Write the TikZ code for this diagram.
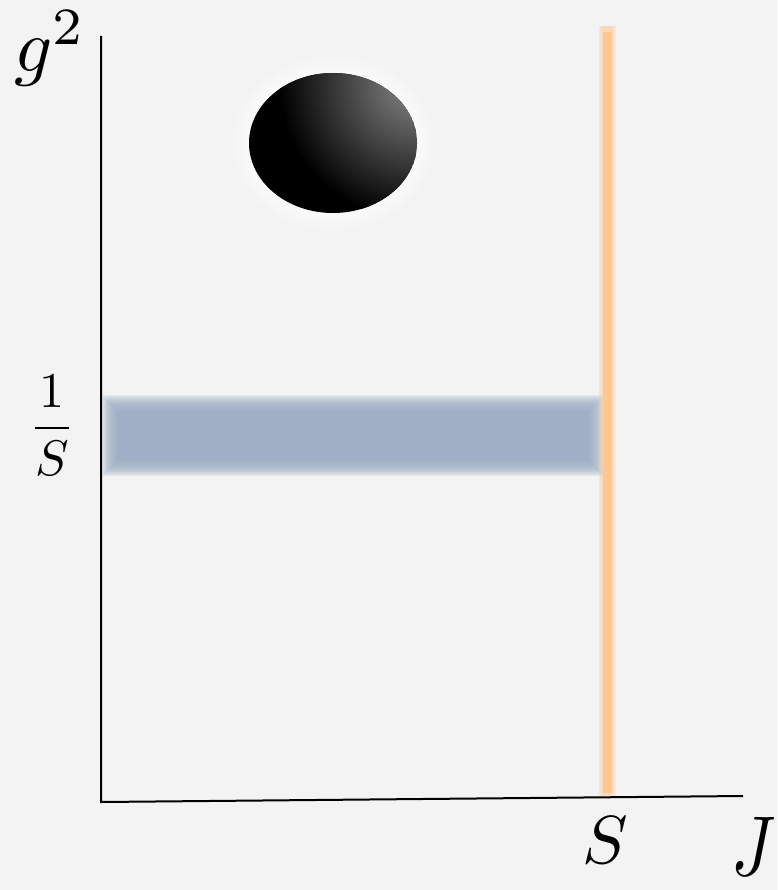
\documentclass[tikz,border=0pt]{standalone}
\definecolor{bg}{RGB}{242,243,242}
\definecolor{barblue}{RGB}{160,175,198}
\definecolor{lineorange}{RGB}{255,200,145}
\definecolor{hilite}{RGB}{135,135,135}
\begin{document}
\begin{tikzpicture}[x=1pt,y=-1pt,
  axis/.style={line width=2pt,black},
  lbl/.style={inner sep=0pt, scale=6.8},
  fraclbl/.style={inner sep=0pt, scale=5}]
\fill[bg] (0,0) rectangle (777,890);
\useasboundingbox (0,0) rectangle (777,890);

% blurred blue band
\foreach \r in {15,14,...,1}
  \fill[barblue, opacity=0.14] (117-\r,410-\r) rectangle (589+\r,461+\r);
\fill[barblue] (117,410) rectangle (589,461);

% orange vertical line (soft)
\foreach \w in {17,14,11}
  \draw[lineorange, line width=\w pt, opacity=0.25] (607,26) -- (607,796);
\draw[lineorange, line width=9pt] (607,32) -- (607,793);

% glowing black ellipse
\foreach \r in {16,13,10,7,4}
  \fill[white, opacity=0.18] (333,143) ellipse [x radius=84pt+\r pt, y radius=70pt+\r pt];
\begin{scope}
  \clip (333,143) ellipse [x radius=84pt, y radius=70pt];
  \fill[black] (333,143) ellipse [x radius=84pt, y radius=70pt];
  \shade[inner color=hilite, outer color=black] (414,84) circle [radius=135pt];
\end{scope}

% axes
\coordinate (O) at (101,802);
\coordinate (Ytop) at (101,36);
\coordinate (Xend) at (743,796);
\draw[axis] (Ytop) -- (O) -- (Xend);

% labels
\node[lbl, scale=1.1] (glabel) at (50,48) {$g^2$};
\node[lbl] (slabel) at (605,840) {$S$};
\node[lbl, yscale=1.25] (jlabel) at (754,846) {$J$};
\node[fraclbl] (frlabel) at (52,425) {$\displaystyle\frac{1}{S}$};
\end{tikzpicture}
\end{document}
